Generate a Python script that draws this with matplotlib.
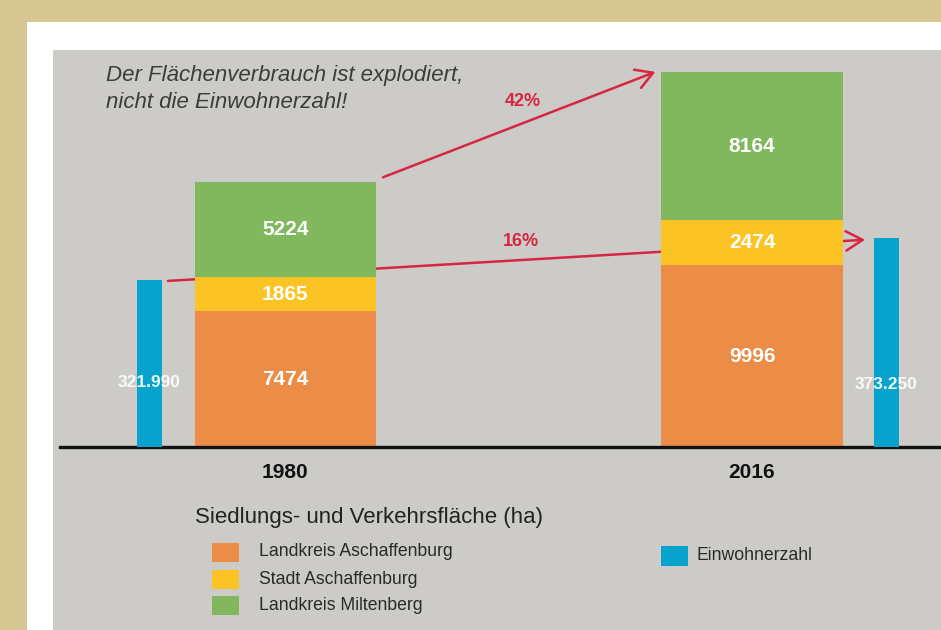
import matplotlib.pyplot as plt
from matplotlib.patches import Rectangle

# data
years = ['1980', '2016']
lk_aschaffenburg = [7474, 9996]
stadt_aschaffenburg = [1865, 2474]
lk_miltenberg = [5224, 8164]
einwohner = [321990, 373250]
einwohner_labels = ['321.990', '373.250']
growth_labels = ['42%', '16%']

orange = '#eb8c47'
yellow = '#fbc424'
green = '#81b75d'
blue = '#08a3cd'
red = '#d7263f'
gray = '#cdcbc8'
tan = '#d6c792'

plt.rcParams['font.family'] = ['Liberation Sans', 'DejaVu Sans']

W, H = 941, 630
fig = plt.figure(figsize=(W / 100, H / 100), dpi=100, facecolor=tan)


def fx(x):
    return x / W


def fy(y):
    return 1 - y / H


# white card and gray panel
fig.patches.append(Rectangle((fx(27), 0), 1, fy(22), transform=fig.transFigure,
                             facecolor='white', edgecolor='none', zorder=-3))
fig.patches.append(Rectangle((fx(53), 0), 1, fy(50), transform=fig.transFigure,
                             facecolor=gray, edgecolor='none', zorder=-2))

ax = fig.add_axes([fx(53), fy(447), 1 - fx(53), (447 - 50) / H])
ax.patch.set_alpha(0)
for s in ax.spines.values():
    s.set_visible(False)
ax.set_xticks([])
ax.set_yticks([])

x = [0, 1]
bw = 0.388
ax.set_xlim(-0.498, 1.405)
ax.set_ylim(0, 21837)

b1 = ax.bar(x, lk_aschaffenburg, bw, color=orange, zorder=2)
bottom2 = lk_aschaffenburg
b2 = ax.bar(x, stadt_aschaffenburg, bw, bottom=bottom2, color=yellow, zorder=2)
bottom3 = [a + b for a, b in zip(lk_aschaffenburg, stadt_aschaffenburg)]
b3 = ax.bar(x, lk_miltenberg, bw, bottom=bottom3, color=green, zorder=2)
totals = [a + b for a, b in zip(bottom3, lk_miltenberg)]

for bottoms, vals in [([0, 0], lk_aschaffenburg),
                      (bottom2, stadt_aschaffenburg),
                      (bottom3, lk_miltenberg)]:
    for xi, bt, v in zip(x, bottoms, vals):
        ax.text(xi, bt + v / 2, str(v), ha='center', va='center', color='white',
                fontsize=15, fontweight='bold', zorder=5)

# population on its own scale
ax2 = ax.twinx()
ax2.set_ylim(118200, 602900)
ax2.axis('off')
ax2.set_xlim(ax.get_xlim())
bx = [-0.2915, 1.288]
bbw = 0.0536
ax2.bar(bx, einwohner, bbw, color=blue, zorder=2)
ax2.text(bx[0], 197500, einwohner_labels[0], ha='center', va='center',
         color='white', fontsize=12.5, fontweight='bold', alpha=0.9, zorder=5)
ax2.text(bx[1], 194000, einwohner_labels[1], ha='center', va='center',
         color='white', fontsize=12.5, fontweight='bold', alpha=0.9, zorder=5)

# baseline
ax.axhline(0, xmin=0.008, xmax=1, color='#111111', lw=2.4, zorder=6, clip_on=False)

# arrows
astyle = '->,head_length=0.6,head_width=0.35'
ax.annotate('', xy=(1 - bw / 2 - 0.013, totals[1]), xytext=(bw / 2 + 0.015, totals[0] + 270),
            arrowprops=dict(arrowstyle=astyle, color=red, lw=1.8, mutation_scale=20,
                            shrinkA=0, shrinkB=0), zorder=3)
ax.annotate('', xy=(bx[1] - bbw / 2 - 0.019, einwohner[1] - 2000), xycoords=ax2.transData,
            xytext=(bx[0] + bbw / 2 + 0.013, einwohner[0] - 1000), textcoords=ax2.transData,
            arrowprops=dict(arrowstyle=astyle, color=red, lw=1.8, mutation_scale=20,
                            shrinkA=0, shrinkB=0), zorder=1)
fig.text(fx(523), fy(102), growth_labels[0], ha='center', va='center', color=red,
         fontsize=13, fontweight='bold')
fig.text(fx(521), fy(241), growth_labels[1], ha='center', va='center', color=red,
         fontsize=13, fontweight='bold')

# headline
fig.text(fx(106), fy(89), 'Der Flächenverbrauch ist explodiert,\nnicht die Einwohnerzahl!',
         ha='left', va='center', color='#3c3c3c', fontsize=16, style='italic',
         linespacing=1.35)

# year labels
for xi, yr in zip(x, years):
    ax.text(xi, -1380, yr, ha='center', va='center', fontsize=15, fontweight='bold',
            color='#111111', clip_on=False)

# legend
fig.text(fx(195), fy(517), 'Siedlungs- und Verkehrsfläche (ha)', ha='left', va='center',
         fontsize=16, color='#222222')
leg_items = [(orange, 'Landkreis Aschaffenburg', 552),
             (yellow, 'Stadt Aschaffenburg', 579),
             (green, 'Landkreis Miltenberg', 605)]
for c, lab, yy in leg_items:
    fig.patches.append(Rectangle((fx(212), fy(yy + 10)), 27 / W, 19 / H,
                                 transform=fig.transFigure, facecolor=c, edgecolor='none'))
    fig.text(fx(259), fy(yy), lab, ha='left', va='center', fontsize=12.7, color='#2a2a2a')
fig.patches.append(Rectangle((fx(661), fy(566)), 27 / W, 20 / H,
                             transform=fig.transFigure, facecolor=blue, edgecolor='none'))
fig.text(fx(696), fy(556), 'Einwohnerzahl', ha='left', va='center', fontsize=12.7, color='#2a2a2a')

fig.savefig('out.png', dpi=100, facecolor=tan)
